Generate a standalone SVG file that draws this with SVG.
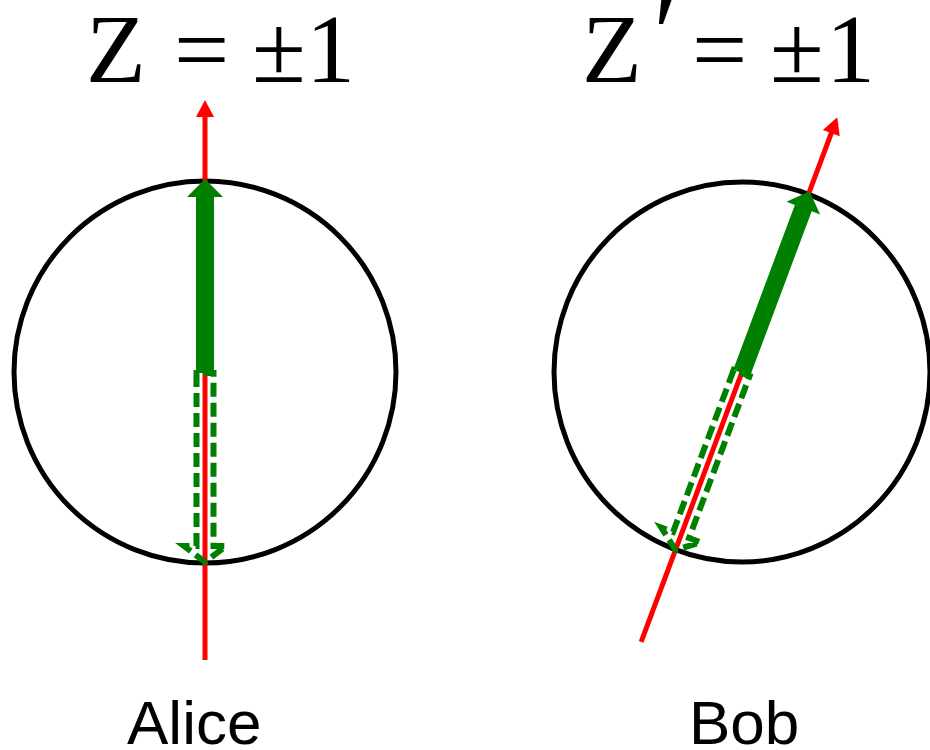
<svg xmlns="http://www.w3.org/2000/svg" xmlns:xlink="http://www.w3.org/1999/xlink" width="930" height="750" viewBox="0 0 930 750">
  <style>
    .sphere { fill: none; stroke: #000000; stroke-width: 5; }
    .axis { stroke: #ff0000; stroke-width: 5; fill: none; }
    .axishead { fill: #ff0000; stroke: none; }
    .solid { fill: #008000; stroke: none; }
    .dashed { fill: none; stroke: #008000; stroke-width: 6; stroke-dasharray: 14 6; stroke-linejoin: miter; }
    .eq { font-family: "Liberation Serif", "Times New Roman", serif; font-size: 98px; fill: #000000; }
    .prime { font-family: "Liberation Serif", "Times New Roman", serif; font-size: 116px; font-style: italic; fill: #000000; }
    .name { font-family: "Liberation Sans", Arial, sans-serif; font-size: 62px; fill: #000000; }
  </style>
  <defs>
    <g id="axis-set">
      <line class="axis" x1="0" y1="288" x2="0" y2="-258"/>
      <polygon class="axishead" points="0,-272 9,-255 -9,-255"/>
      <polygon class="solid" points="-9,1 9,1 9,-175 18,-175 0,-193 -18,-175 -9,-175"/>
      <path class="dashed" d="M -8.5 1 L -8.5 174 L -21 174 L 0 190 L 21 174 L 8.5 174 L 8.5 1 Z"/>
    </g>
  </defs>

  <g id="alice">
    <circle class="sphere" cx="205" cy="372" r="191"/>
    <text class="eq" y="82"><tspan x="86">Z</tspan><tspan x="174">=</tspan><tspan x="252">±</tspan><tspan x="306">1</tspan></text>
    <text class="name" x="127" y="744">Alice</text>
  </g>

  <g id="bob">
    <ellipse class="sphere" cx="742" cy="372" rx="188" ry="190"/>
    <text class="eq" y="82"><tspan x="582">Z</tspan><tspan x="692">=</tspan><tspan x="770">±</tspan><tspan x="826">1</tspan></text>
    <text class="prime" x="646" y="73">′</text>
    <text class="name" x="689" y="744">Bob</text>
  </g>

  <g id="connectors">
    <use xlink:href="#axis-set" href="#axis-set" transform="translate(205,372)"/>
    <use xlink:href="#axis-set" href="#axis-set" transform="translate(742,372) rotate(20.5)"/>
  </g>
</svg>
